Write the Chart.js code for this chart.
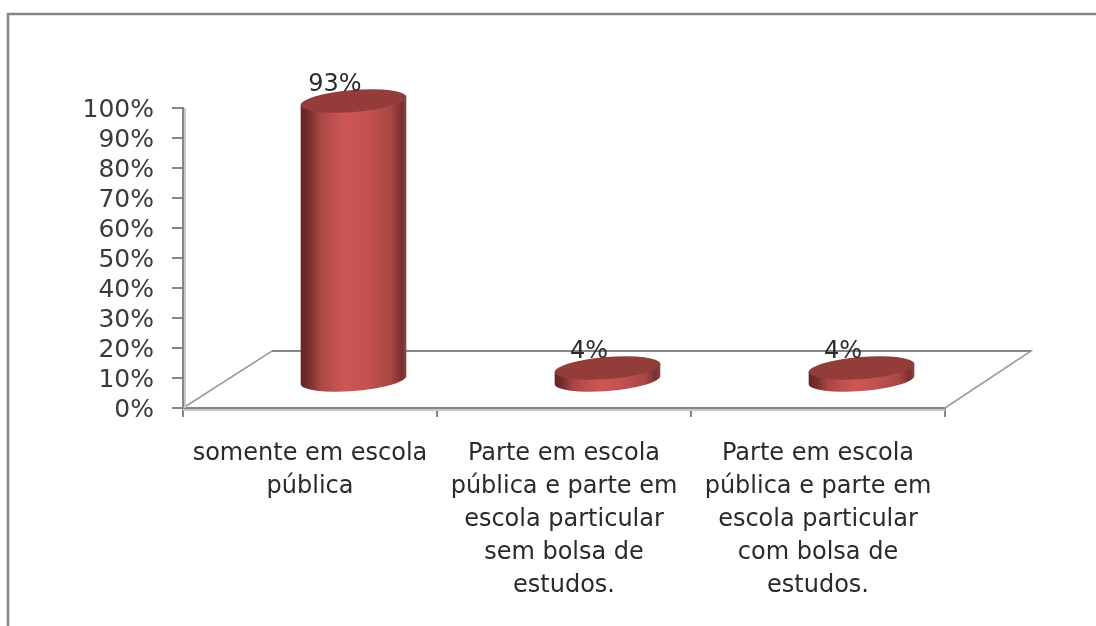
<!DOCTYPE html>
<html><head><meta charset="utf-8">
<style>html,body{margin:0;padding:0;background:#fff}canvas{display:block}</style>
<script src="https://cdn.jsdelivr.net/npm/chart.js@4"></script>
</head><body><canvas id="c" width="1096" height="626"></canvas>
<script>
const categories = [
  ["somente em escola","pública"],
  ["Parte em escola","pública e parte em","escola particular","sem bolsa de","estudos."],
  ["Parte em escola","pública e parte em","escola particular","com bolsa de","estudos."]
];
const values = [93, 4, 4];
const FONT = '"DejaVu Sans"';
const DX = 43.5, DY = -28, FLOORX = 89, FLOORY = -57;
const threeD = {
  id:'threeD',
  beforeDraw(ch){
    const c = ch.ctx;
    c.save();
    c.fillStyle='#fff'; c.fillRect(0,0,ch.width,ch.height);
    c.strokeStyle='#868686'; c.lineWidth=2.5;
    c.beginPath(); c.moveTo(8,626); c.lineTo(8,14); c.lineTo(1096,14); c.stroke();
    c.restore();
  },
  beforeDatasetsDraw(ch){
    const c = ch.ctx, a = ch.chartArea;
    c.save();
    c.strokeStyle='#9a9a9a'; c.lineWidth=1.5;
    c.beginPath();
    c.moveTo(a.left,a.bottom); c.lineTo(a.left+FLOORX,a.bottom+FLOORY);
    c.lineTo(a.right+FLOORX-3,a.bottom+FLOORY); c.lineTo(a.right,a.bottom);
    c.stroke();
    c.strokeStyle='#868686'; c.lineWidth=2;
    c.beginPath(); c.moveTo(a.left+FLOORX,a.bottom+FLOORY); c.lineTo(a.right+FLOORX-3,a.bottom+FLOORY); c.stroke();
    c.fillStyle='#c8c8c8';
    c.fillRect(a.left+1,a.top,2,a.bottom-a.top);
    c.fillRect(a.left,a.bottom+1,a.right-a.left,2);
    c.restore();
  },
  afterDatasetsDraw(ch){
    const c = ch.ctx, meta = ch.getDatasetMeta(0);
    const rot = -4.5*Math.PI/180;
    meta.data.forEach((el,i)=>{
      const A = el.width/2, B = 11;
      const cx = el.x+DX, top = el.y+DY, base = el.base+DY+1;
      const ex = A*Math.cos(rot), ey = A*Math.sin(rot);
      const g = c.createLinearGradient(cx-A,0,cx+A,0);
      g.addColorStop(0,'#622626'); g.addColorStop(.08,'#762e2e');
      g.addColorStop(.18,'#a84745'); g.addColorStop(.42,'#cd5754');
      g.addColorStop(.62,'#c45250'); g.addColorStop(.85,'#a84745');
      g.addColorStop(.96,'#7a2f2f'); g.addColorStop(1,'#8a4a4a');
      c.save();
      c.beginPath();
      c.moveTo(cx-ex,top-ey);
      c.lineTo(cx-ex,base-ey);
      c.ellipse(cx,base,A,B,rot,Math.PI,0,true);
      c.lineTo(cx+ex,top+ey);
      c.closePath();
      c.fillStyle=g; c.fill();
      c.beginPath();
      c.ellipse(cx,top,A,B,rot,0,Math.PI*2);
      c.fillStyle='#933c3a'; c.fill();
      c.restore();
    });
  },
  afterDraw(ch){
    const c = ch.ctx, meta = ch.getDatasetMeta(0);
    c.save();
    c.font='24px '+FONT; c.fillStyle='#2a2a2a';
    c.textAlign='center'; c.textBaseline='middle';
    meta.data.forEach((el,i)=>c.fillText(values[i]+'%',el.x+25,el.y-44));
    c.restore();
  }
};
new Chart(document.getElementById('c'),{
  type:'bar',
  data:{labels:categories,datasets:[{data:values,backgroundColor:'rgba(0,0,0,0)',borderWidth:0,barThickness:106}]},
  options:{
    responsive:false,animation:false,
    layout:{padding:{top:108,right:151,left:0,bottom:0}},
    plugins:{legend:{display:false},tooltip:{enabled:false},title:{display:false}},
    scales:{
      y:{min:0,max:100,
        afterFit(s){s.width=183;},
        border:{display:true,color:'#868686',width:2},
        grid:{drawOnChartArea:false,drawTicks:true,tickLength:11,color:'#868686',lineWidth:2},
        ticks:{stepSize:10,autoSkip:false,padding:18,labelOffset:2,color:'#3a3a3a',font:{family:FONT,size:25},callback:v=>v+'%'}},
      x:{
        afterFit(s){s.height=218;},
        border:{display:true,color:'#868686',width:2},
        grid:{drawOnChartArea:false,drawTicks:true,tickLength:9,color:'#868686',lineWidth:2},
        ticks:{padding:20,maxRotation:0,autoSkip:false,color:'#2a2a2a',font:{family:FONT,size:24,lineHeight:1.375}}}
    }
  },
  plugins:[threeD]
});
</script></body></html>
